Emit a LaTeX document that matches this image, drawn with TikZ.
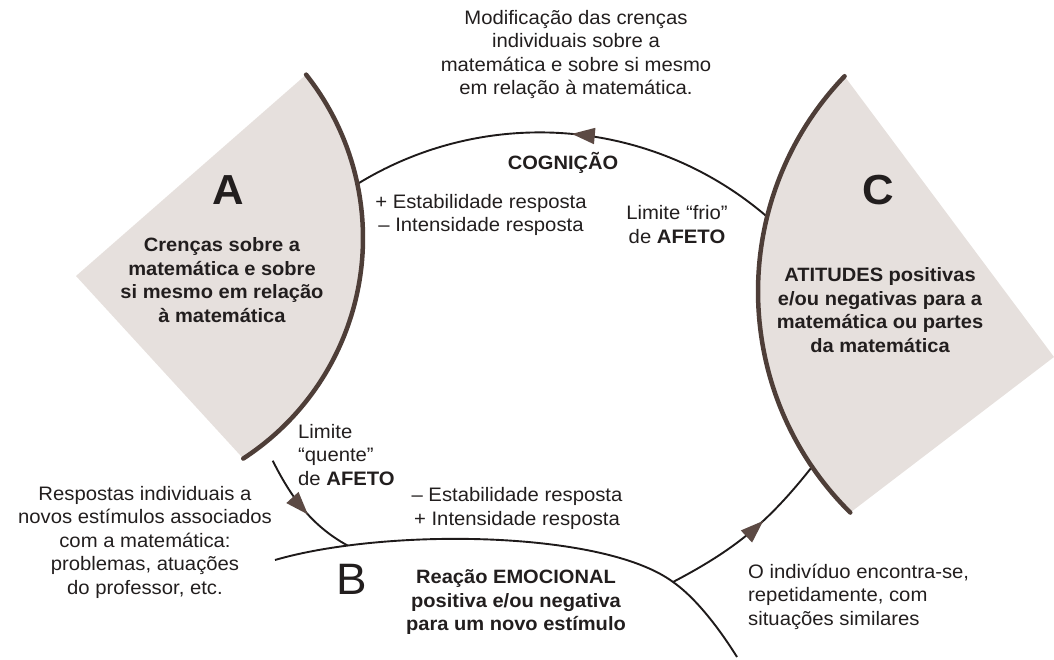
\documentclass[tikz,border=0pt]{standalone}
\usepackage{fontspec}
\setmainfont{Liberation Sans}[FakeStretch=1.04]
\usetikzlibrary{arrows.meta,decorations.markings,calc}
\definecolor{sectorfill}{RGB}{230,224,221}
\definecolor{rim}{RGB}{78,62,56}
\definecolor{inkline}{RGB}{30,26,26}
\definecolor{headcol}{RGB}{92,74,68}
\definecolor{inktext}{RGB}{34,30,30}
\tikzset{
  rimline/.style={draw=rim, line width=4.5pt, line cap=round},
  flow/.style={draw=inkline, line width=1.9pt},
  midarrow/.style={postaction={decorate}, decoration={markings,
      mark=at position #1 with {\arrow{Triangle[length=23pt,width=16pt,color=headcol,fill=headcol]}}}},
  txt/.style={text=inktext, font=\fontsize{19.5}{23.5}\selectfont, inner sep=0pt},
  btxt/.style={text=inktext, font=\fontsize{19.3}{23.5}\selectfont\bfseries, inner sep=0pt},
  bigletter/.style={text=inktext, font=\fontsize{42}{42}\selectfont\bfseries, inner sep=0pt},
}
\begin{document}
\begin{tikzpicture}[x=1pt,y=1pt]
\useasboundingbox (0,0) rectangle (1054,660);

% ---- sector A
\coordinate (Ac) at (100,422);
\coordinate (Aapex) at (76,384);
\coordinate (Atop) at ($(Ac)+(38.4:263)$);
\fill[sectorfill] (Aapex) -- (Atop) arc[start angle=38.4,end angle=-57,radius=263] -- cycle;

% ---- sector C
\coordinate (Cc) at (1069,368.5);
\coordinate (Capex) at (1054,303);
\coordinate (Ctop) at ($(Cc)+(136.2:311)$);
\fill[sectorfill] (Capex) -- (Ctop) arc[start angle=136.2,end angle=225.3,radius=311] -- cycle;

% ---- cognition arc (C -> A)
\coordinate (Gc) at (539.8,179.2);
\coordinate (Cout) at ($(Gc)+(49.3:348.4)$);
\draw[flow, midarrow=0.49] (Cout) arc[start angle=49.3,end angle=121.6,radius=348.4] coordinate (Ain);

% ---- B curve
\coordinate (Bl) at (275,100);
\coordinate (Bm) at (673,78);
\coordinate (Br) at (737,3);
\draw[flow] (Bl) .. controls (385,132) and (603,130) .. coordinate[pos=0.19] (Bq) (Bm)
            .. controls (698,60.5) and (722,27) .. (Br);

% ---- A -> B (hot limit)
\coordinate (Aq) at (272.7,199.3);
\draw[flow, midarrow=0.56] (Aq) .. controls (290,165) and (310,135) .. (Bq);

% ---- B -> C
\coordinate (Cin) at ($(Cc)+(214.3:311)$);
\draw[flow, midarrow=0.6] (Bm) to[bend right=12] (Cin);

% ---- rims
\draw[rimline] (Atop) arc[start angle=38.4,end angle=-57,radius=263];
\draw[rimline] (Ctop) arc[start angle=136.2,end angle=225.3,radius=311];

% ---- texts
\node[txt, align=center] (topt) at (576,605.5)
  {Modificação das crenças\\individuais sobre a\\matemática e sobre si mesmo\\em relação à matemática.};
\node[btxt] (cog) at (563,497) {COGNIÇÃO};
\node[txt, align=center] (pairup) at (481,445)
  {+ Estabilidade resposta\\– Intensidade resposta};
\node[txt, align=center] (frio) at (677,435.5)
  {Limite “frio”\\de \textbf{AFETO}};

\node[bigletter] (A) at (228,470) {A};
\node[btxt, align=center] (Atext) at (222,380)
  {Crenças sobre a\\matemática e sobre\\si mesmo em relação\\à matemática};

\node[bigletter] (C) at (878,470) {C};
\node[btxt, align=center] (Ctext) at (880,350)
  {ATITUDES positivas\\e/ou negativas para a\\matemática ou partes\\da matemática};

\node[txt, align=left, anchor=west] (quente) at (298,205)
  {Limite\\“quente”\\de \textbf{AFETO}};
\node[txt, align=center] (pairlow) at (517,151.5)
  {– Estabilidade resposta\\+ Intensidade resposta};

\node[txt, align=center] (left) at (145,118)
  {Respostas individuais a\\novos estímulos associados\\com a matemática:\\problemas, atuações\\do professor, etc.};

\node[text=inktext, font=\fontsize{44}{44}\selectfont, inner sep=0pt] (B) at (352,81) {B};
\node[btxt, align=center] (Btext) at (516,57.5)
  {Reação EMOCIONAL\\positiva e/ou negativa\\para um novo estímulo};

\node[txt, align=left, anchor=west] (indiv) at (748,63.5)
  {O indivíduo encontra-se,\\repetidamente, com\\situações similares};
\end{tikzpicture}
\end{document}
